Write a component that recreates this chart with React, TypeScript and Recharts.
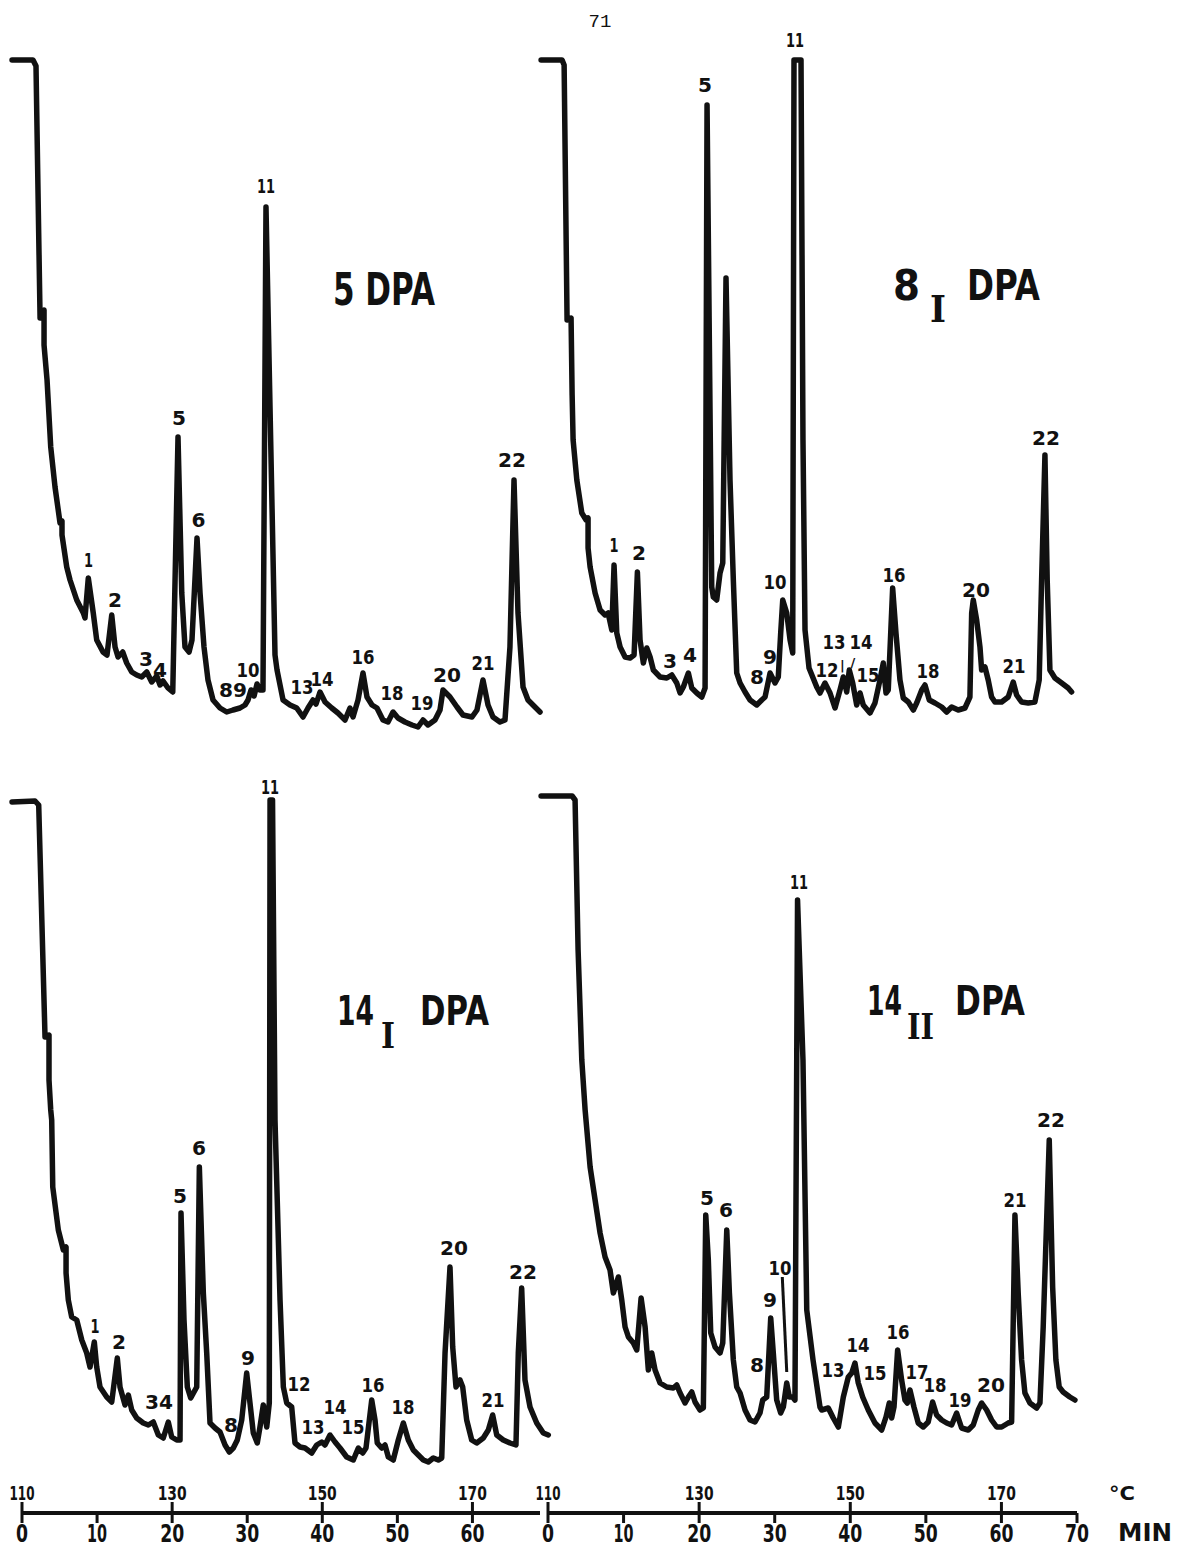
import React from "react";
import { Line, LineChart, XAxis, YAxis } from "recharts";

// Gas chromatograms: [retention time (min), detector response (chart units, full scale ~660)]
const trace5DPA: number[][] = [
  [-1.33, 660], [1.46, 660], [1.86, 654], [2.4, 402], [2.93, 410], [2.93, 375], [3.33, 340], [3.82, 273],
  [4.39, 233], [5.06, 197], [5.32, 199], [5.32, 185], [5.95, 153], [6.39, 140], [7.28, 120], [8.16, 107],
  [8.38, 102], [8.82, 142], [9.48, 107], [9.94, 80], [10.78, 68], [11.31, 65], [11.94, 105], [12.38, 73],
  [12.78, 63], [13.4, 68], [13.93, 57], [14.6, 48], [15.26, 45], [15.93, 43], [16.6, 48], [17.26, 38],
  [17.93, 44], [18.37, 35], [18.77, 39], [19.43, 32], [20.06, 28], [20.76, 283], [21.26, 127], [21.69, 73],
  [22.23, 68], [22.62, 80], [23.29, 182], [23.69, 127], [24.22, 73], [24.75, 40], [25.42, 20], [26.35, 12],
  [27.24, 8], [28.08, 10], [29.01, 12], [29.68, 15], [30.08, 20], [30.48, 30], [30.88, 24], [31.28, 36],
  [31.67, 30], [32.07, 30], [32.47, 513], [33.67, 65], [33.94, 50], [34.74, 20], [35.67, 15], [36.56, 12],
  [37.4, 3], [38.06, 12], [38.73, 20], [39.13, 16], [39.66, 28], [40.33, 18], [41.22, 12], [42.05, 7],
  [42.99, 0], [43.65, 12], [44.05, 3], [44.72, 20], [45.38, 47], [45.91, 23], [46.58, 15], [47.24, 12],
  [48.04, 0], [48.71, -2], [49.38, 8], [50.04, 2], [50.97, -2], [51.9, -5], [52.7, -7], [53.37, 0],
  [54.03, -5], [54.96, 0], [55.63, 10], [56.03, 30], [56.96, 23], [57.89, 13], [58.69, 5], [59.89, 3],
  [60.55, 10], [61.35, 40], [62.02, 15], [62.68, 3], [63.61, -2], [64.28, 0], [64.94, 73], [65.48, 240],
  [66.01, 107], [66.68, 33], [67.34, 20], [68.27, 13], [68.94, 8],
];

const trace8IDPA: number[][] = [
  [-0.93, 660], [1.85, 660], [2.12, 655], [2.51, 400], [3.04, 402], [3.18, 325], [3.31, 280], [3.8, 240],
  [4.46, 207], [5.03, 200], [5.29, 202], [5.29, 172], [5.56, 153], [6.22, 127], [6.88, 110], [7.54, 105],
  [7.94, 107], [8.43, 90], [8.73, 155], [9.09, 87], [9.53, 73], [10.19, 63], [10.85, 62], [11.38, 65],
  [11.82, 148], [12.17, 80], [12.61, 57], [13.06, 72], [13.5, 63], [13.93, 50], [14.82, 43], [15.71, 42],
  [16.37, 45], [17.03, 37], [17.47, 27], [17.9, 33], [18.57, 47], [19.02, 32], [19.68, 27], [20.34, 23],
  [20.78, 32], [21.04, 615], [21.66, 133], [21.87, 123], [22.32, 120], [22.76, 147], [23.12, 157], [23.55, 442],
  [24.08, 240], [24.52, 140], [24.97, 47], [25.41, 37], [26.07, 28], [26.73, 20], [27.62, 15], [28.28, 20],
  [28.72, 23], [29.38, 47], [30.04, 37], [30.47, 43], [30.79, 87], [31.06, 120], [31.59, 107], [32.03, 80],
  [32.38, 67], [32.55, 660], [33.48, 660], [33.74, 280], [34.01, 90], [34.54, 52], [35.56, 33], [35.99, 27],
  [36.65, 37], [37.32, 27], [37.98, 12], [38.64, 30], [39.08, 43], [39.53, 28], [39.87, 50], [40.32, 37],
  [40.85, 15], [41.29, 27], [41.72, 15], [42.61, 7], [43.27, 17], [43.93, 40], [44.37, 57], [44.73, 27],
  [45.03, 30], [45.61, 132], [46.05, 87], [46.58, 40], [47.02, 22], [47.68, 18], [48.35, 10], [48.79, 17],
  [49.46, 30], [49.89, 35], [50.46, 20], [51.21, 17], [52.1, 13], [52.76, 8], [53.42, 13], [54.29, 10],
  [55.18, 12], [55.84, 23], [56.07, 107], [56.28, 120], [56.73, 100], [57.17, 73], [57.39, 50], [57.83, 53],
  [58.26, 40], [58.71, 23], [59.15, 18], [60.04, 18], [60.91, 23], [61.57, 38], [62.02, 25], [62.68, 18],
  [63.56, 17], [64.44, 18], [65.01, 40], [65.33, 140], [65.77, 265], [66.07, 140], [66.43, 50], [67.09, 42],
  [67.98, 37], [68.85, 32], [69.3, 28],
];

const trace14IDPA: number[][] = [
  [-1.33, 660], [1.73, 661], [2.22, 657], [3.06, 425], [3.59, 427], [3.59, 382], [3.82, 352], [3.95, 342],
  [4.09, 275], [4.83, 232], [5.5, 212], [5.86, 215], [5.86, 189], [6.16, 162], [6.61, 145], [7.28, 142],
  [7.95, 122], [8.61, 109], [9.05, 95], [9.62, 120], [9.94, 95], [10.38, 75], [11.27, 65], [11.94, 60],
  [12.68, 104], [13.04, 75], [13.71, 57], [14.15, 67], [14.6, 52], [15.26, 44], [16.14, 39], [16.81, 37],
  [17.47, 40], [18.14, 27], [18.8, 24], [19.47, 40], [19.92, 25], [20.59, 22], [21.03, 22], [21.16, 249],
  [21.56, 142], [22.0, 75], [22.45, 64], [23.25, 75], [23.6, 295], [24.13, 169], [24.58, 109], [25.02, 39],
  [25.69, 34], [26.35, 30], [27.02, 17], [27.59, 10], [28.12, 14], [28.65, 22], [29.24, 42], [29.9, 89],
  [30.34, 59], [30.78, 29], [31.31, 19], [31.67, 35], [32.11, 57], [32.57, 35], [32.91, 59], [33.01, 662],
  [33.34, 662], [33.67, 342], [34.34, 162], [34.78, 75], [35.23, 59], [35.89, 55], [36.33, 19], [37.0, 15],
  [37.66, 14], [38.55, 9], [39.22, 17], [39.89, 20], [40.32, 17], [40.99, 27], [41.66, 20], [42.32, 14],
  [43.21, 5], [44.09, 2], [44.76, 14], [45.34, 9], [45.78, 14], [46.54, 62], [46.98, 42], [47.28, 19],
  [47.87, 14], [48.31, 17], [48.75, 5], [49.41, 2], [50.08, 22], [50.75, 39], [51.41, 22], [52.08, 12],
  [52.74, 7], [53.41, 2], [54.07, 0], [54.74, 4], [55.4, 2], [55.86, 4], [56.3, 109], [56.96, 195],
  [57.32, 115], [57.76, 75], [58.29, 82], [58.65, 75], [59.18, 42], [59.85, 22], [60.51, 19], [61.39, 24],
  [62.06, 32], [62.64, 47], [63.18, 27], [64.05, 22], [64.94, 19], [65.74, 17], [66.05, 109], [66.5, 174],
  [66.94, 82], [67.61, 55], [68.5, 39], [69.38, 29], [70.04, 27],
];

const trace14IIDPA: number[][] = [
  [-0.93, 666], [3.18, 666], [3.57, 662], [3.97, 512], [4.46, 402], [4.9, 352], [5.56, 295], [6.22, 262],
  [6.88, 229], [7.54, 205], [8.2, 192], [8.64, 169], [9.3, 185], [9.75, 162], [10.19, 135], [10.63, 125],
  [11.29, 119], [11.74, 112], [12.31, 164], [12.84, 135], [13.27, 92], [13.72, 109], [14.16, 92], [14.82, 79],
  [15.71, 75], [16.58, 74], [17.03, 77], [17.47, 69], [18.13, 59], [18.57, 65], [19.02, 70], [19.45, 60],
  [20.11, 52], [20.55, 54], [20.87, 247], [21.21, 202], [21.53, 129], [22.1, 115], [22.76, 109], [23.12, 119],
  [23.65, 232], [24.0, 169], [24.52, 102], [24.97, 75], [25.41, 69], [26.07, 52], [26.73, 42], [27.39, 40],
  [28.05, 49], [28.41, 62], [28.94, 65], [29.47, 144], [29.81, 109], [30.26, 62], [30.79, 49], [31.14, 55],
  [31.59, 79], [31.93, 65], [32.38, 65], [32.68, 62], [33.02, 562], [33.74, 402], [34.24, 152], [35.07, 102],
  [35.99, 55], [36.22, 52], [37.09, 54], [37.75, 44], [38.42, 35], [39.08, 65], [39.74, 85], [40.19, 89],
  [40.62, 99], [41.06, 79], [41.64, 65], [42.38, 52], [43.27, 39], [44.16, 32], [44.73, 45], [45.16, 59],
  [45.48, 44], [45.79, 55], [46.27, 112], [46.8, 82], [47.24, 62], [47.55, 59], [47.9, 72], [48.43, 55],
  [49.0, 39], [49.66, 35], [50.32, 40], [50.9, 60], [51.43, 47], [52.1, 42], [52.76, 39], [53.42, 37],
  [54.08, 49], [54.74, 34], [55.62, 32], [56.28, 37], [56.94, 52], [57.39, 59], [58.05, 52], [58.71, 42],
  [59.38, 35], [60.04, 35], [60.91, 39], [61.36, 40], [61.8, 247], [62.23, 169], [62.68, 102], [63.12, 69],
  [63.78, 59], [64.67, 54], [65.11, 59], [65.54, 135], [66.34, 322], [66.79, 175], [67.22, 102], [67.66, 75],
  [68.18, 70], [69.07, 65], [69.74, 62],
];

// peak numbers: [label, time, response] at the label's centre
const peaks5DPA: [string, number, number][] = [
  ["1", 8.85, 160], ["2", 12.38, 120], ["3", 16.5, 61], ["4", 18.37, 50], ["5", 20.89, 302], ["6", 23.49, 200],
  ["89", 28.08, 30], ["10", 30.08, 50], ["11", 32.47, 534], ["13", 37.26, 33], ["14", 39.93, 41],
  ["16", 45.38, 63], ["18", 49.24, 27], ["19", 53.23, 17], ["20", 56.56, 45], ["21", 61.35, 57], ["22", 65.21, 260],
];

const peaks8IDPA: [string, number, number][] = [
  ["1", 8.73, 175], ["2", 12.04, 167], ["3", 16.14, 59], ["4", 18.79, 65], ["5", 20.78, 635], ["8", 27.66, 43],
  ["9", 29.38, 63], ["10", 30.04, 138], ["11", 32.69, 680], ["12", 36.92, 50], ["13", 37.85, 78], ["|", 38.95, 55],
  ["14", 41.42, 78], ["/", 40.36, 58], ["15", 42.35, 45], ["16", 45.79, 145], ["18", 50.28, 49], ["20", 56.64, 130],
  ["21", 61.66, 54], ["22", 65.9, 282],
];

const peaks14IDPA: [string, number, number][] = [
  ["1", 9.72, 136], ["2", 12.91, 120], ["34", 18.23, 60], ["5", 21.03, 266], ["6", 23.56, 314], ["8", 27.81, 37],
  ["9", 30.08, 104], ["11", 33.01, 675], ["12", 36.86, 78], ["13", 38.73, 35], ["14", 41.66, 55], ["15", 44.05, 35],
  ["16", 46.71, 77], ["18", 50.71, 55], ["20", 57.49, 214], ["21", 62.68, 62], ["22", 66.68, 190],
];

const peaks14IIDPA: [string, number, number][] = [
  ["5", 21.04, 264], ["6", 23.55, 252], ["8", 27.66, 97], ["9", 29.38, 162], ["10", 30.7, 194], ["11", 33.21, 580],
  ["13", 37.71, 92], ["14", 41.02, 117], ["15", 43.27, 89], ["16", 46.31, 130], ["17", 48.83, 90], ["18", 51.21, 77],
  ["19", 54.52, 62], ["20", 58.62, 77], ["21", 61.8, 262], ["22", 66.56, 342],
];

// leader line from label "10" down to its peak (14_II)
const pointer14II: number[][] = [[31.0, 185], [31.59, 90]];

const minuteTicksLeft = [0, 10, 20, 30, 40, 50, 60];
const minuteTicksRight = [0, 10, 20, 30, 40, 50, 60, 70];
const tempTicks = [110, 130, 150, 170];
const tempAtMinute = [0, 20, 40, 60];

const INK = "#111";
const BOLD = "'DejaVu Sans', 'Liberation Sans', sans-serif";
const SERIF = "'DejaVu Serif', 'Liberation Serif', serif";
const AXIS_PAD = 30;

const toPts = (a: number[][]) => a.map(([t, h]) => ({ t, h }));
const digitWidth = (s: string, narrow: number, wide: number) =>
  [...s].reduce((w, c) => w + (c === "1" ? narrow : wide), 0);

function PeakLabel(props: any) {
  const { cx, cy, payload, index } = props;
  if (cx == null || cy == null) return <g key={`pk-${index}`} />;
  const s: string = payload.label;
  const mark = s === "|" || s === "/";
  return (
    <text
      key={`pk-${index}`}
      x={cx}
      y={cy}
      textAnchor="middle"
      dominantBaseline="central"
      fontFamily={BOLD}
      fontWeight={700}
      fontSize={mark ? 13 : 20}
      fill={INK}
      textLength={mark ? undefined : digitWidth(s, 9, 14)}
      lengthAdjust="spacingAndGlyphs"
    >
      {s}
    </text>
  );
}

function Panel({ trace, peaks, left, top, width, pointer }: {
  trace: number[][]; peaks: [string, number, number][]; left: number; top: number; width: number; pointer?: number[][];
}) {
  return (
    <div style={{ position: "absolute", left, top }}>
      <LineChart width={width} height={720} margin={{ top: 0, right: 0, bottom: 0, left: 0 }}>
        <XAxis type="number" dataKey="t" domain={[-2, 72]} hide />
        <YAxis type="number" domain={[-20, 700]} hide />
        <Line
          data={toPts(trace)}
          dataKey="h"
          type="linear"
          stroke={INK}
          strokeWidth={5.5}
          strokeLinejoin="round"
          strokeLinecap="round"
          dot={false}
          activeDot={false}
          isAnimationActive={false}
        />
        {pointer && (
          <Line data={toPts(pointer)} dataKey="h" stroke={INK} strokeWidth={3} dot={false} activeDot={false} isAnimationActive={false} />
        )}
        <Line
          data={peaks.map(([label, t, h]) => ({ label, t, h }))}
          dataKey="h"
          stroke="none"
          dot={PeakLabel}
          activeDot={false}
          isAnimationActive={false}
        />
      </LineChart>
    </div>
  );
}

function AxisTick(props: any) {
  const { x, y, payload } = props;
  const v = payload.value as number;
  const ti = tempAtMinute.indexOf(v);
  const major = ti >= 0;
  const label = String(v);
  return (
    <g>
      <line x1={x} x2={x} y1={major ? y - 11 : y} y2={y + 10} stroke={INK} strokeWidth={3} />
      <text x={x} y={y + 21} textAnchor="middle" dominantBaseline="central" fontFamily={BOLD} fontWeight={700}
        fontSize={24} fill={INK} textLength={digitWidth(label, 8, 12)} lengthAdjust="spacingAndGlyphs">
        {label}
      </text>
      {major && (
        <text x={x} y={y - 20} textAnchor="middle" dominantBaseline="central" fontFamily={BOLD} fontWeight={700}
          fontSize={20} fill={INK} textLength={digitWidth(String(tempTicks[ti]), 7, 11)} lengthAdjust="spacingAndGlyphs">
          {tempTicks[ti]}
        </text>
      )}
    </g>
  );
}

function MinuteAxis({ ticks, max, left, width }: { ticks: number[]; max: number; left: number; width: number }) {
  return (
    <div style={{ position: "absolute", left: left - AXIS_PAD, top: 1473 }}>
      <LineChart
        width={width + 2 * AXIS_PAD}
        height={80}
        data={ticks.map((t) => ({ t }))}
        margin={{ top: 0, right: AXIS_PAD, bottom: 0, left: AXIS_PAD }}
      >
        <XAxis
          type="number"
          dataKey="t"
          domain={[0, max]}
          ticks={ticks}
          interval={0}
          height={40}
          tickLine={false}
          tickSize={0}
          tickMargin={0}
          axisLine={{ stroke: INK, strokeWidth: 4 }}
          tick={AxisTick}
        />
        <YAxis hide />
      </LineChart>
    </div>
  );
}

export default function App() {
  const t = { fontFamily: BOLD, fontWeight: 700, fill: INK, lengthAdjust: "spacingAndGlyphs" as const };
  const r = { fontFamily: SERIF, fontWeight: 700, fill: INK, lengthAdjust: "spacingAndGlyphs" as const };
  return (
    <div style={{ position: "absolute", left: 0, top: 0, width: 1177, height: 1549, background: "#fff", overflow: "hidden" }}>
      <Panel trace={trace5DPA} peaks={peaks5DPA} left={7} top={20} width={556} />
      <Panel trace={trace8IDPA} peaks={peaks8IDPA} left={533} top={20} width={559} />
      <Panel trace={trace14IDPA} peaks={peaks14IDPA} left={7} top={762} width={556} />
      <Panel trace={trace14IIDPA} peaks={peaks14IIDPA} left={533} top={762} width={559} pointer={pointer14II} />
      <MinuteAxis ticks={minuteTicksLeft} max={69} left={22} width={518} />
      <MinuteAxis ticks={minuteTicksRight} max={70} left={548} width={529} />
      <svg width={1177} height={1549} style={{ position: "absolute", left: 0, top: 0, pointerEvents: "none" }}>
        <text x={600} y={22} textAnchor="middle" dominantBaseline="central" fontFamily="'Liberation Mono', 'DejaVu Sans Mono', monospace" fontSize={19} fill={INK}>71</text>
        <text x={333} y={305} fontSize={44} textLength={102} {...t}>5 DPA</text>
        <text x={893} y={300} fontSize={42} textLength={27} {...t}>8</text>
        <text x={930} y={322} fontSize={38} textLength={16} {...r}>I</text>
        <text x={967} y={300} fontSize={42} textLength={73} {...t}>DPA</text>
        <text x={337} y={1025} fontSize={40} textLength={37} {...t}>14</text>
        <text x={381} y={1048} fontSize={36} textLength={14} {...r}>I</text>
        <text x={420} y={1025} fontSize={40} textLength={69} {...t}>DPA</text>
        <text x={867} y={1015} fontSize={40} textLength={35} {...t}>14</text>
        <text x={907} y={1039} fontSize={36} textLength={27} {...r}>II</text>
        <text x={955} y={1015} fontSize={40} textLength={70} {...t}>DPA</text>
        <text x={1122} y={1493} textAnchor="middle" dominantBaseline="central" fontSize={20} textLength={26} {...t}>°C</text>
        <text x={1145} y={1533} textAnchor="middle" dominantBaseline="central" fontSize={24} textLength={54} {...t}>MIN</text>
      </svg>
    </div>
  );
}
